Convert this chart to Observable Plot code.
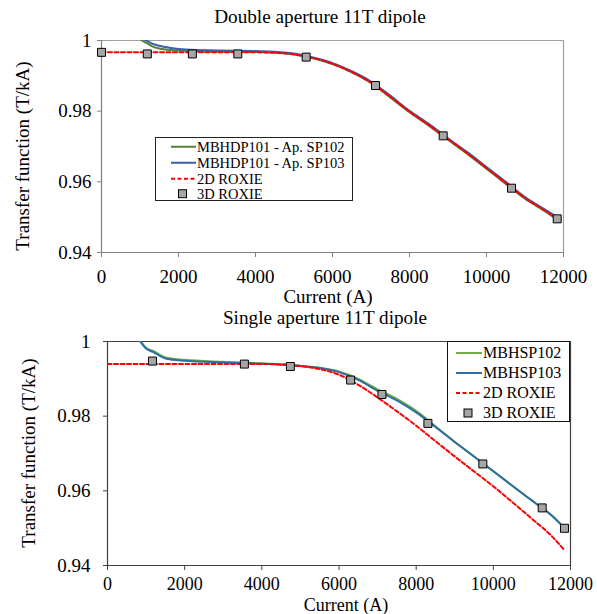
<!DOCTYPE html>
<html>
<head>
<meta charset="utf-8">
<script src="https://cdn.jsdelivr.net/npm/d3@7"></script>
<script src="https://cdn.jsdelivr.net/npm/@observablehq/plot@0.6"></script>
<style>
  html, body { margin: 0; padding: 0; background: #fff; }
  #page { position: relative; width: 597px; height: 614px; overflow: hidden; font-family: "Times New Roman", Times, "Liberation Serif", "DejaVu Serif", serif; color: #000; }
  .abs { position: absolute; white-space: nowrap; line-height: 1; }
  .title { font-size: 19.2px; transform: translate(-50%, -50%); }
  .xlab { font-size: 19px; transform: translate(-50%, -50%); }
  .xlab2 { font-size: 18px; transform: translate(-50%, -50%); }
  .ylab { font-size: 19px; transform: translate(-50%, -50%) rotate(-90deg); }
  .legend { position: absolute; background: #fff; box-sizing: border-box; }
  .legend .row { position: absolute; left: 0; display: flex; align-items: center; transform: translateY(-50%); }
  .plotbox { position: absolute; left: 0; }
</style>
</head>
<body>
<div id="page"></div>
<script>
// ---------------- Data: Double aperture 11T dipole ----------------
const topGreenX = [880, 1050, 1200, 1350, 1500, 1800, 2200, 3000, 4000, 4500, 5000, 5300, 5700, 6000, 6500, 7000, 7500, 8000, 8500, 9000, 9500, 10000, 10500, 11000, 11500, 11840];
const topGreenY = [1.0015, 1.0000, 0.9991, 0.9982, 0.99775, 0.9973, 0.99710, 0.99690, 0.99675, 0.9966, 0.9960, 0.9954, 0.9944, 0.9933, 0.9910, 0.9880, 0.9839, 0.9797, 0.9759, 0.9719, 0.9679, 0.9637, 0.9594, 0.9552, 0.9518, 0.9493];
const topBlueX  = [1000, 1160, 1300, 1500, 1800, 2200, 3000, 4000, 4500, 5000, 5300, 5700, 6000, 6500, 7000, 7500, 8000, 8500, 9000, 9500, 10000, 10500, 11000, 11500, 11840];
const topBlueY  = [1.0012, 1.0000, 0.9992, 0.9985, 0.9979, 0.99745, 0.9972, 0.9970, 0.99685, 0.9963, 0.9957, 0.9946, 0.9936, 0.9913, 0.9884, 0.9844, 0.9801, 0.9764, 0.9723, 0.9684, 0.9642, 0.9600, 0.9557, 0.9523, 0.9500];
const topRoxie2DX = [0, 1000, 2000, 3000, 4000, 4500, 5000, 5300, 5700, 6000, 6500, 7000, 7500, 8000, 8500, 9000, 9500, 10000, 10500, 11000, 11500, 11840];
const topRoxie2DY = [0.99665, 0.99665, 0.99665, 0.99665, 0.99665, 0.9965, 0.9961, 0.9955, 0.9945, 0.9934, 0.9911, 0.9881, 0.9841, 0.9799, 0.9761, 0.9721, 0.9681, 0.9639, 0.9597, 0.9554, 0.9520, 0.9496];
const topRoxie3DX = [0, 1190, 2360, 3540, 5316, 7117, 8875, 10650, 11836];
const topRoxie3DY = [0.99665, 0.9962, 0.9962, 0.9962, 0.9953, 0.98726, 0.97302, 0.9582, 0.94953];

// ---------------- Data: Single aperture 11T dipole ----------------
const botGreenX = [830, 1000, 1200, 1500, 2000, 3000, 4000, 5000, 5500, 6000, 6500, 7000, 7500, 8000, 8500, 9000, 9500, 10000, 10500, 11000, 11500, 11844];
const botGreenY = [1.0005, 0.9983, 0.9974, 0.9957, 0.9951, 0.99455, 0.99415, 0.9935, 0.9930, 0.9920, 0.9900, 0.9872, 0.9846, 0.9814, 0.9773, 0.9731, 0.9692, 0.96525, 0.9613, 0.9574, 0.9535, 0.9500];
const botBlueX  = [830, 1000, 1200, 1500, 2000, 3000, 4000, 5000, 5500, 6000, 6500, 7000, 7500, 8000, 8500, 9000, 9500, 10000, 10500, 11000, 11500, 11844];
const botBlueY  = [1.0003, 0.9981, 0.9971, 0.99546, 0.99484, 0.9944, 0.99405, 0.99345, 0.9929, 0.9918, 0.9897, 0.9868, 0.9842, 0.9810, 0.9771, 0.9731, 0.9692, 0.96525, 0.9613, 0.9574, 0.9535, 0.9500];
const botRoxie2DX = [0, 1000, 2000, 3000, 4000, 4500, 5000, 5500, 6000, 6500, 7000, 7500, 8000, 8500, 9000, 9500, 10000, 10500, 11000, 11500, 11844];
const botRoxie2DY = [0.9940, 0.9940, 0.9940, 0.9940, 0.9940, 0.99385, 0.9934, 0.9926, 0.9911, 0.9884, 0.9850, 0.9813, 0.97745, 0.9733, 0.9692, 0.9652, 0.9612, 0.9569, 0.9525, 0.9480, 0.9441];
const botRoxie3DX = [1165, 3548, 4740, 6301, 7113, 8304, 9728, 11266, 11844];
const botRoxie3DY = [0.99476, 0.99395, 0.99331, 0.98967, 0.98582, 0.97806, 0.9672, 0.95543, 0.94997];

// ---------------- Axes / labels ----------------
const xTicks = [0, 2000, 4000, 6000, 8000, 10000, 12000];
const yTicks = [0.94, 0.96, 0.98, 1];
const titles = ["Double aperture 11T dipole", "Single aperture 11T dipole"];
const xLabel = "Current (A)";
const yLabel = "Transfer function (T/kA)";
const topSeries = ["MBHDP101 - Ap. SP102", "MBHDP101 - Ap. SP103", "2D ROXIE", "3D ROXIE"];
const botSeries = ["MBHSP102", "MBHSP103", "2D ROXIE", "3D ROXIE"];

const zip = (xs, ys) => xs.map((x, i) => ({x, y: ys[i]}));
const fontFamily = '"Times New Roman", Times, "Liberation Serif", "DejaVu Serif", serif';
const yFmt = d => d === 1 ? "1" : d.toFixed(2);

function makeChart(cfg) {
  return Plot.plot({
    width: 597,
    height: cfg.height,
    marginLeft: cfg.ml, marginRight: cfg.mr, marginTop: cfg.mt, marginBottom: cfg.mb,
    style: {fontFamily, fontSize: "19px", color: "#000", background: "transparent", overflow: "visible"},
    x: {domain: [0, 12000]},
    y: {domain: [0.94, 1]},
    marks: [
      Plot.ruleY([1], {stroke: cfg.frameColor, strokeWidth: 1.2}),
      Plot.ruleX([12000], {stroke: cfg.frameColor, strokeWidth: 1.2}),
      Plot.ruleY([0.94], {stroke: cfg.axisColor, strokeWidth: 1.2}),
      Plot.ruleX([0], {stroke: cfg.axisColor, strokeWidth: 1.2}),
      Plot.axisX({ticks: xTicks, tickFormat: d => String(d), tickSize: 5, tickPadding: cfg.xtp, label: null, stroke: cfg.axisColor, fill: "#000", fontFamily, fontSize: cfg.xfs}),
      Plot.axisY({ticks: yTicks, tickFormat: yFmt, tickSize: 4, tickPadding: cfg.ytp, label: null, stroke: cfg.axisColor, fill: "#000", fontFamily}),
      Plot.line(zip(cfg.gx, cfg.gy), {x: "x", y: "y", stroke: cfg.green, strokeWidth: 2, curve: "monotone-x", clip: true}),
      Plot.line(zip(cfg.bx, cfg.by), {x: "x", y: "y", stroke: cfg.blue, strokeWidth: 2, curve: "monotone-x", clip: true}),
      Plot.line(zip(cfg.rx, cfg.ry), {x: "x", y: "y", stroke: "#ff0000", strokeWidth: 2, strokeDasharray: "4,2.5", curve: "monotone-x", clip: true}),
      Plot.dot(zip(cfg.sx, cfg.sy), {x: "x", y: "y", symbol: "square", r: 4.5, fill: "#a6a6a6", stroke: "#000", strokeWidth: 1})
    ]
  });
}

const page = document.getElementById("page");

function addChart(top, cfg) {
  const box = document.createElement("div");
  box.className = "plotbox";
  box.style.top = top + "px";
  box.appendChild(makeChart(cfg));
  page.appendChild(box);
}

function addText(cls, text, x, y) {
  const d = document.createElement("div");
  d.className = "abs " + cls;
  d.textContent = text;
  d.style.left = x + "px";
  d.style.top = y + "px";
  page.appendChild(d);
}

function addLegend(L) {
  const box = document.createElement("div");
  box.className = "legend";
  Object.assign(box.style, {left: L.left + "px", top: L.top + "px", width: L.w + "px", height: L.h + "px", border: L.border});
  const kinds = ["g", "b", "r", "s"];
  L.labels.forEach((lab, i) => {
    const row = document.createElement("div");
    row.className = "row";
    row.style.top = L.rows[i] + "px";
    row.style.left = L.sampleLeft + "px";
    const ns = "http://www.w3.org/2000/svg";
    const svg = document.createElementNS(ns, "svg");
    svg.setAttribute("width", L.sampleW);
    svg.setAttribute("height", 10);
    let el;
    if (kinds[i] === "s") {
      el = document.createElementNS(ns, "rect");
      const s = L.sq;
      el.setAttribute("x", L.sampleW / 2 - s / 2 - 1);
      el.setAttribute("y", 5 - s / 2);
      el.setAttribute("width", s); el.setAttribute("height", s);
      el.setAttribute("fill", "#a6a6a6"); el.setAttribute("stroke", "#000"); el.setAttribute("stroke-width", 1);
    } else {
      el = document.createElementNS(ns, "line");
      el.setAttribute("x1", 0); el.setAttribute("x2", L.sampleW);
      el.setAttribute("y1", 5); el.setAttribute("y2", 5);
      el.setAttribute("stroke", kinds[i] === "g" ? L.green : kinds[i] === "b" ? L.blue : "#ff0000");
      el.setAttribute("stroke-width", 2);
      if (kinds[i] === "r") el.setAttribute("stroke-dasharray", "4,2.5");
    }
    svg.appendChild(el);
    const t = document.createElement("span");
    t.textContent = lab;
    t.style.fontSize = L.fs + "px";
    t.style.lineHeight = "1";
    t.style.marginLeft = "1px";
    row.appendChild(svg);
    row.appendChild(t);
    box.appendChild(row);
  });
  page.appendChild(box);
}

// Top chart
addChart(0, {
  height: 300, ml: 101, mr: 34, mt: 40, mb: 48, ytp: 6, xtp: 12, xfs: 19,
  frameColor: "#a0a0a0", axisColor: "#808080",
  green: "#548235", blue: "#3c5fa8",
  gx: topGreenX, gy: topGreenY, bx: topBlueX, by: topBlueY,
  rx: topRoxie2DX, ry: topRoxie2DY, sx: topRoxie3DX, sy: topRoxie3DY
});
// Bottom chart
addChart(300, {
  height: 314, ml: 107, mr: 27, mt: 41, mb: 49, ytp: 13, xtp: 7, xfs: 18,
  frameColor: "#404040", axisColor: "#404040",
  green: "#70ad47", blue: "#2e6ca4",
  gx: botGreenX, gy: botGreenY, bx: botBlueX, by: botBlueY,
  rx: botRoxie2DX, ry: botRoxie2DY, sx: botRoxie3DX, sy: botRoxie3DY
});

addText("title", titles[0], 320, 17);
addText("title", titles[1], 325, 318);
addText("xlab", xLabel, 328, 296);
addText("xlab2", xLabel, 346, 604.5);
addText("ylab", yLabel, 22, 156);
addText("ylab", yLabel, 28, 453);

addLegend({left: 155, top: 137, w: 198, h: 64, border: "1px solid #222", labels: topSeries,
  rows: [9, 25, 41, 56], sampleLeft: 15, sampleW: 25, sq: 8, fs: 14.5, green: "#548235", blue: "#3c5fa8"});
addLegend({left: 447, top: 341, w: 123, h: 81, border: "1.5px solid #111", labels: botSeries,
  rows: [11, 31, 51, 71], sampleLeft: 8, sampleW: 26, sq: 8, fs: 16, green: "#70ad47", blue: "#2e6ca4"});
</script>
</body>
</html>
